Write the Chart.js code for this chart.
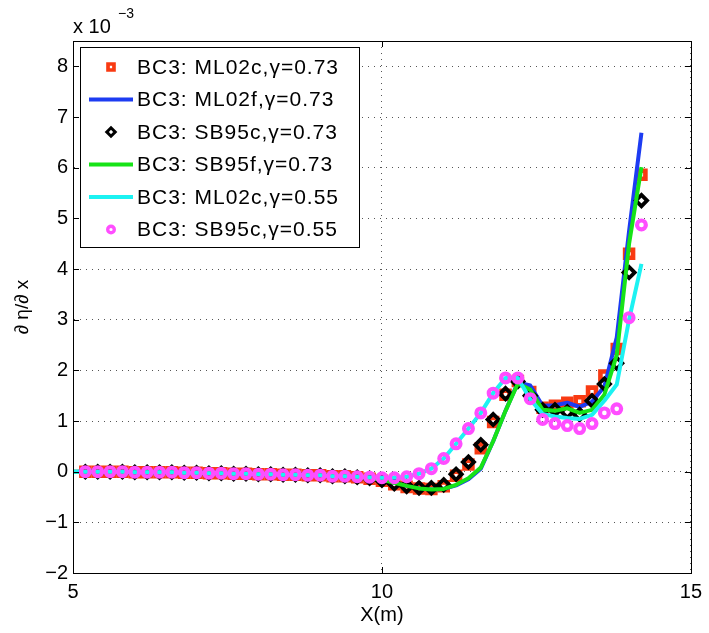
<!DOCTYPE html>
<html>
<head>
<meta charset="utf-8">
<script src="https://cdn.jsdelivr.net/npm/chart.js@4.4.1/dist/chart.umd.min.js"></script>
<style>
    html, body { margin: 0; padding: 0; background: #fff; }
    #wrap { width: 709px; height: 633px; }
</style>
</head>
<body>
<div id="wrap"><canvas id="deriv-chart" width="709" height="633"></canvas></div>
<script>
// x positions (m): lines start at 5.0, markers at 5.2
var xLine = [5.0, 5.2, 5.4, 5.6, 5.8, 6.0, 6.2, 6.4, 6.6, 6.8, 7.0, 7.2, 7.4, 7.6, 7.8, 8.0,
    8.2, 8.4, 8.6, 8.8, 9.0, 9.2, 9.4, 9.6, 9.8, 10.0, 10.2, 10.4, 10.6, 10.8, 11.0, 11.2,
    11.4, 11.6, 11.8, 12.0, 12.2, 12.4, 12.6, 12.8, 13.0, 13.2, 13.4, 13.6, 13.8, 14.0, 14.2];
var xMark = [5.2, 5.4, 5.6, 5.8, 6.0, 6.2, 6.4, 6.6, 6.8, 7.0, 7.2, 7.4, 7.6, 7.8, 8.0,
    8.2, 8.4, 8.6, 8.8, 9.0, 9.2, 9.4, 9.6, 9.8, 10.0, 10.2, 10.4, 10.6, 10.8, 11.0, 11.2,
    11.4, 11.6, 11.8, 12.0, 12.2, 12.4, 12.6, 12.8, 13.0, 13.2, 13.4, 13.6, 13.8, 14.0, 14.2];

// values in units of 1e-3
var ml02c73 = [0.00, 0.00, 0.00, 0.00, -0.01, -0.01, -0.01, -0.01, -0.02, -0.02, -0.03, -0.03, -0.04, -0.04, -0.05,
    -0.05, -0.06, -0.06, -0.07, -0.07, -0.09, -0.09, -0.11, -0.14, -0.18, -0.25, -0.30, -0.33, -0.34, -0.29, -0.08,
    0.14, 0.46, 0.98, 1.52, 1.79, 1.57, 1.26, 1.30, 1.36, 1.39, 1.58, 1.90, 2.42, 4.30, 5.86];
var ml02f73 = [0.00, 0.00, 0.00, 0.00, 0.00, -0.01, -0.01, -0.01, -0.01, -0.02, -0.02, -0.03, -0.03, -0.04, -0.04, -0.05,
    -0.05, -0.06, -0.06, -0.07, -0.07, -0.09, -0.09, -0.10, -0.13, -0.16, -0.22, -0.28, -0.33, -0.35, -0.34, -0.27,
    -0.15, 0.06, 0.60, 1.20, 1.76, 1.70, 1.30, 1.31, 1.36, 1.28, 1.38, 1.68, 2.65, 4.75, 6.69];
var sb95c73 = [0.00, 0.00, 0.00, 0.00, -0.01, -0.01, -0.01, -0.01, -0.02, -0.02, -0.03, -0.03, -0.04, -0.04, -0.05,
    -0.05, -0.06, -0.06, -0.07, -0.07, -0.09, -0.09, -0.11, -0.13, -0.17, -0.24, -0.29, -0.32, -0.32, -0.26, -0.05,
    0.19, 0.53, 1.03, 1.54, 1.78, 1.50, 1.22, 1.22, 1.18, 1.13, 1.40, 1.73, 2.14, 3.93, 5.35];
var sb95f73 = [0.00, 0.00, 0.00, 0.00, 0.00, -0.01, -0.01, -0.01, -0.01, -0.02, -0.02, -0.03, -0.03, -0.04, -0.04, -0.05,
    -0.05, -0.06, -0.06, -0.07, -0.07, -0.09, -0.09, -0.10, -0.13, -0.16, -0.22, -0.28, -0.33, -0.35, -0.34, -0.26,
    -0.13, 0.08, 0.60, 1.20, 1.74, 1.62, 1.22, 1.20, 1.25, 1.16, 1.22, 1.52, 2.30, 4.50, 6.01];
var ml02c55 = [0.00, 0.00, 0.00, 0.00, 0.00, -0.01, -0.01, -0.01, -0.01, -0.02, -0.02, -0.03, -0.03, -0.04, -0.04, -0.05,
    -0.05, -0.06, -0.06, -0.07, -0.07, -0.09, -0.09, -0.10, -0.11, -0.12, -0.12, -0.10, -0.04, 0.06, 0.26, 0.55,
    0.85, 1.16, 1.55, 1.85, 1.85, 1.43, 1.14, 1.09, 1.06, 1.04, 1.12, 1.40, 1.72, 3.00, 4.10];
var sb95c55 = [0.00, 0.00, 0.00, 0.00, -0.01, -0.01, -0.01, -0.01, -0.02, -0.02, -0.03, -0.03, -0.04, -0.04, -0.05,
    -0.05, -0.06, -0.06, -0.07, -0.07, -0.09, -0.09, -0.10, -0.11, -0.12, -0.12, -0.10, -0.04, 0.06, 0.26, 0.55,
    0.85, 1.16, 1.55, 1.85, 1.85, 1.44, 1.03, 0.95, 0.91, 0.85, 0.95, 1.16, 1.24, 3.04, 4.87];

var yTicks = [-2, -1, 0, 1, 2, 3, 4, 5, 6, 7, 8];
var xTicks = [5, 10, 15];

function pts(xs, ys) {
    return ys.map(function (y, i) { return { x: xs[i], y: y }; });
}

var FONT = "'Liberation Sans', Arial, Helvetica, sans-serif";
Chart.defaults.font.family = FONT;
Chart.defaults.color = "#000";

var markerDs = function (label, xs, ys, color, style, radius, bw, order) {
    return {
        label: label, data: pts(xs, ys), showLine: false,
        pointStyle: style, pointRadius: radius, pointBorderWidth: bw,
        pointBorderColor: color, pointBackgroundColor: "rgba(0,0,0,0)",
        borderColor: color, backgroundColor: "rgba(0,0,0,0)", order: order,
    };
};
var lineDs = function (label, xs, ys, color, order) {
    return {
        label: label, data: pts(xs, ys), borderColor: color, borderWidth: 4,
        pointRadius: 0, tension: 0, fill: false, order: order, borderJoinStyle: "round",
    };
};

var datasets = [
    markerDs("BC3: ML02c,\u03b3=0.73", xMark, ml02c73, "#f93a12", "rect", 5.6, 4.6, 6),
    lineDs("BC3: ML02f,\u03b3=0.73", xLine, ml02f73, "#1d3cf2", 5),
    markerDs("BC3: SB95c,\u03b3=0.73", xMark, sb95c73, "#000000", "rectRot", 5.6, 3.8, 4),
    lineDs("BC3: SB95f,\u03b3=0.73", xLine, sb95f73, "#17e317", 3),
    lineDs("BC3: ML02c,\u03b3=0.55", xLine, ml02c55, "#1cf2f2", 2),
    markerDs("BC3: SB95c,\u03b3=0.55", xMark, sb95c55, "#ff4dff", "circle", 4.4, 4.2, 1),
];

// box, inward tick marks, exponent label and legend
var decorations = {
    id: "decorations",
    afterDatasetsDraw: function (chart) {
        var ctx = chart.ctx, a = chart.chartArea;
        var xs = chart.scales.x, ys = chart.scales.y;
        ctx.save();
        ctx.strokeStyle = "#000";
        ctx.lineWidth = 1;
        ctx.beginPath();
        yTicks.forEach(function (v) {
            var py = Math.round(ys.getPixelForValue(v)) + 0.5;
            ctx.moveTo(a.left, py); ctx.lineTo(a.left + 6, py);
            ctx.moveTo(a.right, py); ctx.lineTo(a.right - 6, py);
        });
        xTicks.forEach(function (v) {
            var px = Math.round(xs.getPixelForValue(v)) + 0.5;
            ctx.moveTo(px, a.bottom); ctx.lineTo(px, a.bottom - 6);
            ctx.moveTo(px, a.top); ctx.lineTo(px, a.top + 6);
        });
        ctx.stroke();
        ctx.strokeRect(Math.round(a.left) + 0.5, Math.round(a.top) + 0.5,
            Math.round(a.right - a.left), Math.round(a.bottom - a.top));

        // exponent
        ctx.fillStyle = "#000";
        ctx.textBaseline = "alphabetic";
        ctx.textAlign = "left";
        ctx.font = "20px " + FONT;
        ctx.fillText("x 10", a.left, 33);
        ctx.font = "14px " + FONT;
        ctx.fillText("\u22123", a.left + 45, 18);

        // legend
        var lx = 80, ly = 47, lw = 279, lh = 200;
        ctx.fillStyle = "#fff";
        ctx.fillRect(lx, ly, lw, lh);
        ctx.strokeRect(lx + 0.5, ly + 0.5, lw, lh);
        chart.data.datasets.forEach(function (ds, i) {
            var cy = 67 + i * 32.5;
            if (ds.showLine === false) {
                ctx.strokeStyle = ds.pointBorderColor;
                ctx.fillStyle = ds.pointBackgroundColor;
                ctx.lineWidth = ds.pointBorderWidth * 0.8;
                Chart.helpers.drawPoint(ctx, {
                    pointStyle: ds.pointStyle, radius: ds.pointRadius * 0.75,
                    borderWidth: ds.pointBorderWidth * 0.8, rotation: 0,
                }, 111, cy);
            } else {
                ctx.strokeStyle = ds.borderColor;
                ctx.lineWidth = ds.borderWidth;
                ctx.beginPath();
                ctx.moveTo(89, cy); ctx.lineTo(133, cy);
                ctx.stroke();
            }
            ctx.fillStyle = "#000";
            ctx.font = "21px " + FONT;
            ctx.textBaseline = "middle";
            if ("letterSpacing" in ctx) ctx.letterSpacing = "1px";
            ctx.fillText(ds.label, 137, cy + 1);
            if ("letterSpacing" in ctx) ctx.letterSpacing = "0px";
        });
        ctx.restore();
    },
};

new Chart(document.getElementById("deriv-chart"), {
    type: "line",
    data: { datasets: datasets },
    options: {
        responsive: false,
        animation: false,
        events: [],
        layout: { padding: { top: 41, right: 17, bottom: 0, left: 0 } },
        scales: {
            x: {
                type: "linear",
                min: 5,
                max: 15,
                afterFit: function (s) { s.height = 60; },
                ticks: { stepSize: 5, font: { size: 20 }, padding: 7, maxRotation: 0, color: "#000" },
                grid: { color: "#555", drawTicks: false, lineWidth: 1 },
                border: { display: true, color: "#000", width: 1, dash: [1, 5] },
                title: { display: true, text: "X(m)", font: { size: 20 }, color: "#000", padding: { top: 0, bottom: 6 } },
            },
            y: {
                type: "linear",
                min: -2,
                max: 8.5,
                afterFit: function (s) { s.width = 73; },
                ticks: {
                    stepSize: 1, includeBounds: false, font: { size: 20 }, padding: 5, color: "#000",
                    callback: function (v) { return v < 0 ? "\u2212" + (-v) : "" + v; },
                },
                grid: { color: "#555", drawTicks: false, lineWidth: 1 },
                border: { display: true, color: "#000", width: 1, dash: [1, 5] },
                title: { display: true, text: "\u2202 \u03b7/\u2202 x", font: { size: 19 }, color: "#000", padding: { top: 11, bottom: 0 } },
            },
        },
        plugins: {
            legend: { display: false },
            tooltip: { enabled: false },
        },
    },
    plugins: [decorations],
});
</script>
</body>
</html>
